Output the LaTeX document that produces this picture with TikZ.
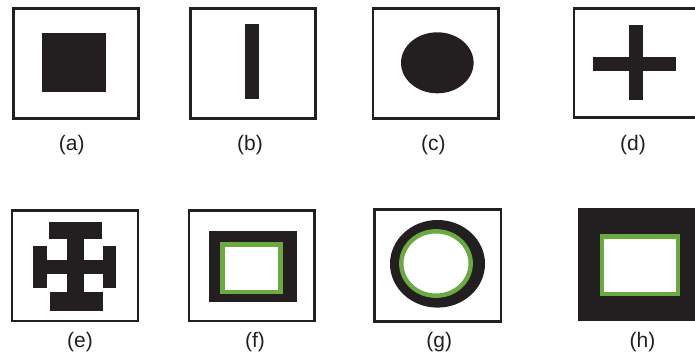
\documentclass[tikz,border=0pt]{standalone}
\usepackage{fontspec}
\setmainfont{Liberation Sans}
\definecolor{ink}{RGB}{35,31,32}
\definecolor{grn}{RGB}{106,170,64}
\begin{document}
\begin{tikzpicture}[x=1pt,y=-1pt,
  frame/.style={draw=ink,line width=2.8pt},
  blk/.style={fill=ink},
  grnline/.style={draw=grn,line width=4.4pt,fill=white},
  lab/.style={anchor=base,font=\fontsize{21}{21}\selectfont,text=ink,inner sep=0pt}]
\clip (0,0) rectangle (695,357);
\fill[white] (0,0) rectangle (695,357);
% (a)
\draw[frame] (13.4,8.4) rectangle (138.6,118.6);
\fill[blk] (42.3,33.3) rectangle (106,92.3);
\node[lab] (la) at (71.7,150.5) {(a)};
% (b)
\draw[frame] (190.4,8.4) rectangle (315.3,118.6);
\fill[blk] (245,24) rectangle (258.7,99.3);
\node[lab] (lb) at (250,150.5) {(b)};
% (c)
\draw[frame] (373,8.4) rectangle (498.6,118.6);
\fill[blk] (437.3,62.8) ellipse [x radius=36.3,y radius=30.5];
\node[lab] (lc) at (433.3,150.5) {(c)};
% (d)
\draw[frame] (574,8.4) rectangle (700,117.6);
\fill[blk] (593.3,56.7) rectangle (676,70.7);
\fill[blk] (629,25) rectangle (642.7,100);
\node[lab] (ld) at (633,150.5) {(d)};
% (e)
\draw[frame] (12,210.4) rectangle (138,321);
\fill[blk] (49.3,221.7) rectangle (102.3,238.6);
\fill[blk] (66.7,238) rectangle (84,292);
\fill[blk] (50,291.7) rectangle (103.3,311);
\fill[blk] (33.3,245.7) rectangle (46.9,287.7);
\fill[blk] (46.5,260) rectangle (67,274.3);
\fill[blk] (102.5,245.7) rectangle (116,287.7);
\fill[blk] (83.7,260) rectangle (102.9,274.3);
\node[lab] (le) at (80,347.5) {(e)};
% (f)
\draw[frame] (189,210.4) rectangle (314.7,321);
\fill[blk] (208.7,231) rectangle (296.7,302.3);
\draw[grnline] (222.6,244.6) rectangle (280.4,291.7);
\node[lab] (lf) at (255,347.5) {(f)};
% (g)
\draw[frame] (374.7,209.7) rectangle (501,321.3);
\fill[blk] (437.5,263.8) ellipse [x radius=47.5,y radius=43.8];
\draw[grnline] (436,263.5) ellipse [x radius=34.7,y radius=32.2];
\node[lab] (lg) at (439.3,347.5) {(g)};
% (h)
\fill[blk] (577.7,207.5) rectangle (700,321);
\draw[grnline] (602.2,236.3) rectangle (677.8,293.7);
\node[lab] (lh) at (642.5,347.5) {(h)};
\end{tikzpicture}
\end{document}
